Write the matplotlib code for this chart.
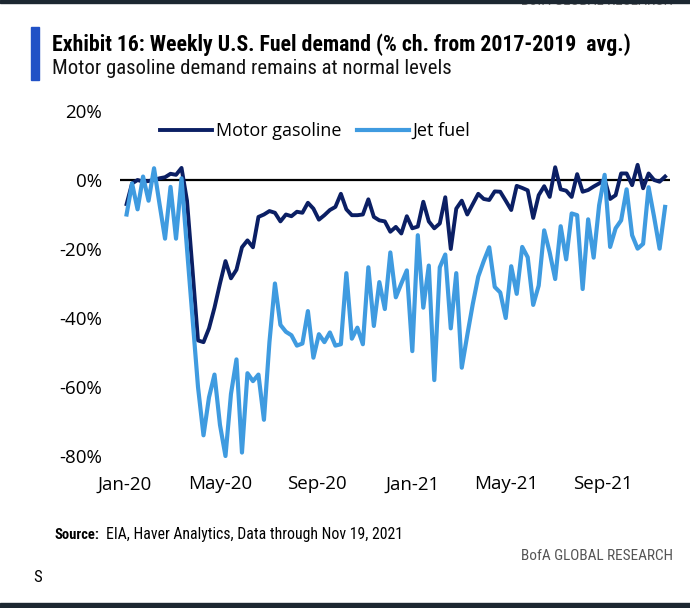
import matplotlib
matplotlib.use("Agg")
import matplotlib.pyplot as plt
from matplotlib import font_manager as fm
from matplotlib.lines import Line2D
from matplotlib.patches import Rectangle
import pandas as pd


def pick(*names):
    for n in names:
        try:
            fm.findfont(fm.FontProperties(family=n), fallback_to_default=False)
            return n
        except Exception:
            pass
    return "DejaVu Sans"


NARROW = pick("Liberation Sans Narrow", "Roboto Condensed", "Liberation Sans")
MAIN = pick("Open Sans", "Liberation Sans")

# ---------------- data ----------------
start_date = "2020-01-03"
n_weeks = 99

gasoline = [
    -7, -1, 0, -0.5, -0.3, 0, 0.5, 0.8, 1.8, 1.5,
    3.5, -6, -26, -46.5, -47, -43, -37, -30, -23.5, -28.5,
    -26, -19.5, -17.5, -19.5, -10.7, -10, -9, -9.5, -12, -10,
    -10.5, -9.2, -9.5, -6.6, -8.3, -11.5, -10.2, -8.7, -7.8, -4,
    -8.5, -10.2, -10.2, -10, -5.6, -10.7, -11.7, -12, -15, -13.6,
    -15.5, -10.5, -14, -13.5, -6.3, -12, -14, -12.6, -5, -20,
    -8.3, -6, -10, -7, -4, -5.5, -5.8, -3.3, -3.4, -6,
    -8.7, -1.7, -2.3, -3, -11, -4.4, -1.8, -4.9, 3.7, -2.7,
    -3.1, -4.9, 1.7, -3.4, -2.9, -1.9, -1, 0.2, -5.5, -4.4,
    1.9, 1.9, -1.5, 4.4, -2.4, 1.9, 0, -0.5, 1,
]

jet_fuel = [
    -10, -1, -8.5, 1, -6, 3.4, -7, -17, -2, -17,
    0.5, -20, -40, -60, -74, -63, -56.4, -71, -80, -62,
    -52, -79, -56, -58.3, -56.4, -69.5, -47, -30, -42, -44,
    -45, -48, -47.4, -38, -51.5, -44.7, -47, -44.2, -48, -47.6,
    -27, -46, -42.8, -47.6, -25.3, -42.3, -29.6, -37.4, -21, -34,
    -30, -26.2, -49.6, -16, -37, -24.8, -58, -25.3, -21.6, -43,
    -27, -54.4, -45, -36, -28, -23.5, -19.5, -31, -32.6, -40,
    -25, -33, -19.4, -22.4, -36.2, -30.6, -14.6, -21, -28.7, -13.4,
    -23, -9.7, -10.2, -31.6, -11.4, -22.5, -7.3, 1.5, -19.4, -14,
    -11.7, -2.7, -16, -19.9, -18.5, -2.1, -10.7, -19.9, -7.8,
]

series_names = ["Motor gasoline", "Jet fuel"]
y_ticks = [20, 0, -20, -40, -60, -80]
x_tick_dates = ["2020-01-01", "2020-05-01", "2020-09-01",
                "2021-01-01", "2021-05-01", "2021-09-01"]
x_tick_labels = ["Jan-20", "May-20", "Sep-20", "Jan-21", "May-21", "Sep-21"]

title = "Exhibit 16: Weekly U.S. Fuel demand (% ch. from 2017-2019  avg.)"
subtitle = "Motor gasoline demand remains at normal levels"
source_label = "Source:"
source_text = "EIA, Haver Analytics, Data through Nov 19, 2021"
brand = "BofA GLOBAL RESEARCH"

dates = pd.date_range(start_date, periods=n_weeks, freq="7D")

# ---------------- figure ----------------
W, H = 690, 608
fig = plt.figure(figsize=(W / 100, H / 100), dpi=100)
fig.patch.set_facecolor("white")


def fx(px):
    return px / W


def fy(py):
    return 1 - py / H


NAVY = "#0b1f64"
LIGHT = "#3f9be0"

ax_l, ax_r, ax_t, ax_b = 120, 670, 111, 456
ax = fig.add_axes([fx(ax_l), fy(ax_b), (ax_r - ax_l) / W, (ax_b - ax_t) / H])
ax.set_facecolor("none")
for s in ax.spines.values():
    s.set_visible(False)

ax.axhline(0, color="black", lw=1.6, zorder=1)
ax.plot(dates, gasoline, color=NAVY, lw=2.8, zorder=2, clip_on=False,
        solid_joinstyle="round")
ax.plot(dates, jet_fuel, color=LIGHT, lw=3.0, zorder=3, clip_on=False,
        solid_joinstyle="round")

# x limits from pixel layout: x = 125 px at 2020-01-01, 0.785 px/day
x0 = pd.Timestamp("2020-01-01")
xmin = x0 + pd.Timedelta(days=(ax_l - 125) / 0.785)
xmax = x0 + pd.Timedelta(days=(ax_r - 125) / 0.785)
ax.set_xlim(xmin, xmax)
ax.set_ylim(-80, 20)

ax.set_yticks(y_ticks)
ax.set_yticklabels([f"{v}%" for v in y_ticks])
ax.set_xticks(pd.to_datetime(x_tick_dates))
ax.set_xticklabels(x_tick_labels)
ax.tick_params(axis="both", length=0, labelsize=13.5, colors="black")
ax.tick_params(axis="y", pad=13)
ax.tick_params(axis="x", pad=14)
for lab in ax.get_xticklabels() + ax.get_yticklabels():
    lab.set_fontfamily(MAIN)

handles = [Line2D([], [], color=NAVY, lw=2.8), Line2D([], [], color=LIGHT, lw=3.0)]
leg = fig.legend(handles, series_names, loc="center left",
                 bbox_to_anchor=(fx(160), fy(131)), ncol=2, frameon=False,
                 borderpad=0, borderaxespad=0, handlelength=2.9,
                 handletextpad=0.2, columnspacing=0.85,
                 prop={"family": MAIN, "size": 13})

# ---------------- decorations ----------------
DARK = "#1c2731"
fig.patches.append(Rectangle((0, fy(3)), 1, 3 / H, transform=fig.transFigure,
                             color=DARK, zorder=5))
fig.patches.append(Rectangle((0, 0), 1, 5 / H, transform=fig.transFigure,
                             color=DARK, zorder=5))
fig.patches.append(Rectangle((fx(31), fy(80)), 8 / W, 53 / H,
                             transform=fig.transFigure, color="#2151c6"))

TX = 52
t_title = fig.text(fx(TX), fy(45), title, family=[NARROW, "DejaVu Sans"],
                   weight="bold", fontsize=15, va="center", ha="left",
                   color="black")
t_sub = fig.text(fx(TX), fy(69), subtitle, family=[NARROW, "DejaVu Sans"],
                 fontsize=13, va="center", ha="left", color="#111111")
t_src = fig.text(fx(55), fy(535), source_label, family=[NARROW, "DejaVu Sans"],
                 weight="bold", fontsize=9.5, va="center", ha="left")
t_src2 = fig.text(fx(103), fy(535), source_text, family=[NARROW, "DejaVu Sans"],
                  fontsize=9.5, va="center", ha="left")
t_brand = fig.text(fx(673), fy(556), brand, family=[NARROW, "DejaVu Sans"],
                   fontsize=11, va="center", ha="right", color="#555555")
t_top = fig.text(fx(673), fy(1), brand, family=[NARROW, "DejaVu Sans"],
                 fontsize=11, va="center", ha="right", color="#777777")
t_s = fig.text(fx(33), fy(578), "S", family=[NARROW, "DejaVu Sans"],
               fontsize=12, va="center", ha="left")

fig.canvas.draw()
r = fig.canvas.get_renderer()


def fit(t, target):
    w = t.get_window_extent(r).width
    t.set_fontsize(t.get_fontsize() * target / w)


fit(t_title, 632 - TX)
fit(t_sub, 450 - TX)
fit(t_src, 100 - 55)
fit(t_src2, 405 - 107)
fit(t_brand, 673 - 521)
t_top.set_fontsize(t_brand.get_fontsize())
fig.canvas.draw()
w_src = t_src.get_window_extent(r).width
t_src2.set_x(fx(55 + w_src + 6))

fig.savefig("out.png", dpi=100, facecolor="white")
